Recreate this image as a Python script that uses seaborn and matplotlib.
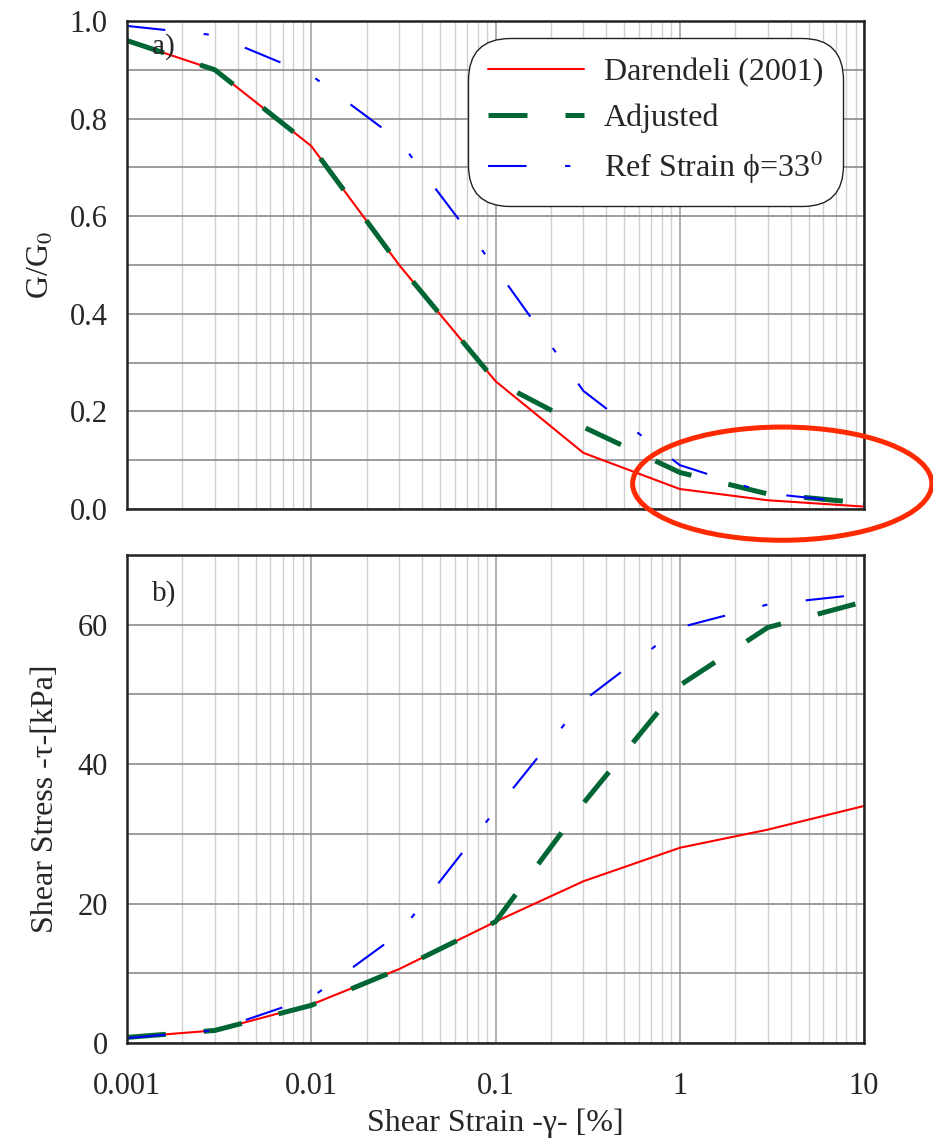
import numpy as np
import pandas as pd
import matplotlib.pyplot as plt
import seaborn as sns
from matplotlib.patches import Ellipse
from matplotlib.ticker import MultipleLocator, LogLocator, FixedLocator, FixedFormatter, NullFormatter

# --- data ---
strain = [0.001, 0.003, 0.01, 0.03, 0.1, 0.3, 1, 3, 10]

# a) modulus reduction G/G0
darendeli_g = [0.96, 0.90, 0.744, 0.50, 0.262, 0.115, 0.041, 0.018, 0.005]
adjusted_g = [0.96, 0.90, 0.744, 0.50, 0.262, 0.168, 0.075, 0.031, 0.012]
ref_g = [0.99, 0.971, 0.889, 0.755, 0.494, 0.242, 0.090, 0.032, 0.011]

# b) shear stress [kPa]
darendeli_tau = [0.8, 1.8, 5.5, 10.6, 17.4, 23.2, 28.0, 30.6, 34.0]
adjusted_tau = [0.8, 1.8, 5.4, 10.6, 17.4, 34.4, 51.3, 59.6, 63.3]
ref_tau = [0.7, 1.8, 6.5, 15.7, 33.4, 49.1, 59.6, 62.9, 64.4]

series_names = ['Darendeli (2001)', 'Adjusted', 'Ref Strain ϕ=33$^{0}$']
x_ticks = [0.001, 0.01, 0.1, 1, 10]
x_tick_labels = ['0.001', '0.01', '0.1', '1', '10']

sns.set_style('white')
plt.rcParams['font.family'] = ['Liberation Serif', 'DejaVu Serif']
plt.rcParams['mathtext.fontset'] = 'stix'

df_g = pd.DataFrame({'strain': strain, 'darendeli': darendeli_g,
                     'adjusted': adjusted_g, 'ref': ref_g})
df_tau = pd.DataFrame({'strain': strain, 'darendeli': darendeli_tau,
                       'adjusted': adjusted_tau, 'ref': ref_tau})

# line styles: red solid, thick green dashes, thin blue dash-dot
styles = {
    'darendeli': dict(color='#FF0000', linewidth=1.5, linestyle='-'),
    'adjusted': dict(color='#006633', linewidth=3.6, linestyle=(0, (7.8, 7.6))),
    'ref': dict(color='#0000FF', linewidth=1.5, linestyle=(0, (18.5, 18.5, 2.5, 18.5))),
}

fig = plt.figure(figsize=(9.33, 11.38), dpi=100)
ax_top = fig.add_axes([0.1361, 0.5527, 0.790, 0.4288])
ax_bot = fig.add_axes([0.1361, 0.0835, 0.790, 0.4288])

for ax, df in [(ax_top, df_g), (ax_bot, df_tau)]:
    for col, name in zip(['darendeli', 'adjusted', 'ref'], series_names):
        sns.lineplot(data=df, x='strain', y=col, ax=ax, label=name,
                     estimator=None, sort=False, zorder=3, **styles[col])
    ax.set_xscale('log')
    ax.set_xlim(0.001, 10)
    ax.xaxis.set_major_locator(FixedLocator(x_ticks))
    ax.xaxis.set_minor_locator(LogLocator(base=10, subs=np.arange(2, 10)))
    ax.xaxis.set_minor_formatter(NullFormatter())
    # grids
    ax.grid(which='major', axis='x', color='#9a9a9a', linewidth=1.1)
    ax.grid(which='minor', axis='x', color='#d0d0d0', linewidth=1.0)
    ax.grid(which='both', axis='y', color='#8c8c8c', linewidth=1.2)
    ax.set_axisbelow(True)
    ax.tick_params(which='both', length=0, labelsize=22, pad=14)
    for s in ax.spines.values():
        s.set_color('#222222')
        s.set_linewidth(1.8)
        s.set_zorder(5)

# top panel
ax_top.set_ylim(0, 1.0)
ax_top.yaxis.set_major_locator(MultipleLocator(0.2))
ax_top.yaxis.set_minor_locator(MultipleLocator(0.1))
ax_top.yaxis.set_major_formatter(plt.FormatStrFormatter('%.1f'))
ax_top.set_xticklabels([])
ax_top.set_xlabel('')
ax_top.set_ylabel('G/G$_0$', fontsize=23, labelpad=10)
ax_top.text(0.034, 0.947, 'a)', transform=ax_top.transAxes, fontsize=21,
            va='center', ha='left')

leg = ax_top.legend(loc='upper right', bbox_to_anchor=(0.9715, 0.965), fontsize=23,
                    fancybox=True, framealpha=1, edgecolor='#222222',
                    handlelength=3.0, handletextpad=0.63, labelspacing=0.5,
                    borderpad=0.62, borderaxespad=0)
leg.get_frame().set_linewidth(1.0)
leg.get_frame().set_boxstyle('round', pad=0, rounding_size=1.3)
leg.set_zorder(6)

# red ellipse highlighting the large-strain range
ell = Ellipse((0.889, 0.052), 0.406, 0.232, transform=ax_top.transAxes,
              fill=False, edgecolor='#FF2A00', linewidth=3.6, clip_on=False, zorder=7)
ax_top.add_patch(ell)

# bottom panel
ax_bot.set_ylim(0, 70)
ax_bot.yaxis.set_major_locator(FixedLocator([0, 20, 40, 60]))
ax_bot.yaxis.set_minor_locator(MultipleLocator(10))
ax_bot.xaxis.set_major_formatter(FixedFormatter(x_tick_labels))
ax_bot.tick_params(axis='x', pad=21)
ax_bot.set_xlabel('Shear Strain -γ- [%]', fontsize=23, labelpad=5)
ax_bot.set_ylabel('Shear Stress -τ-[kPa]', fontsize=23, labelpad=12)
ax_bot.get_legend().remove()
ax_bot.text(0.034, 0.922, 'b)', transform=ax_bot.transAxes, fontsize=21,
            va='center', ha='left')

plt.savefig('out.png', dpi=100)
